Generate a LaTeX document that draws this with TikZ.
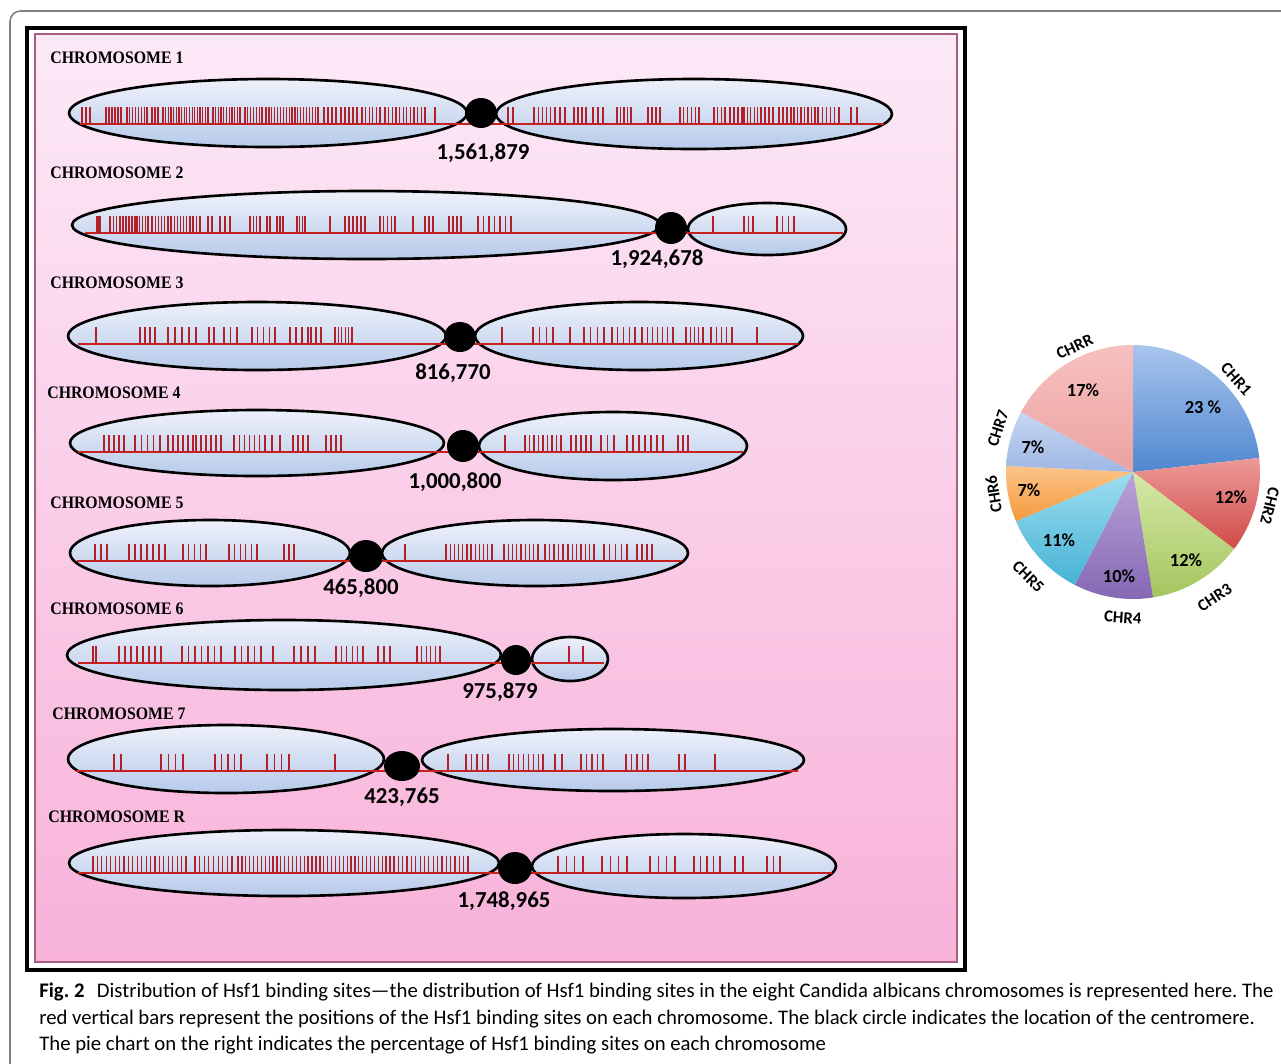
\documentclass[tikz,border=0pt]{standalone}
\usepackage{fontspec}
\usepackage{tikz}
\usetikzlibrary{positioning}
\newfontfamily\chromfont[FakeStretch=0.9]{Liberation Serif}
\newfontfamily\numfont{Carlito}
\definecolor{armtop}{HTML}{EEF1FA}
\definecolor{armbot}{HTML}{B7CAEA}
\definecolor{sitered}{HTML}{B3202A}
\definecolor{linered}{HTML}{C8201E}
\definecolor{paneltop}{HTML}{FCE9F7}
\definecolor{panelbot}{HTML}{F8B2D9}
\definecolor{paneledge}{HTML}{A8607E}
\definecolor{c1top}{HTML}{A9C5EE}\definecolor{c1bot}{HTML}{4F87CF}
\definecolor{c2top}{HTML}{EC9A98}\definecolor{c2bot}{HTML}{D04A47}
\definecolor{c3top}{HTML}{D6E8A8}\definecolor{c3bot}{HTML}{A3C65E}
\definecolor{c4top}{HTML}{B9A4D8}\definecolor{c4bot}{HTML}{8466B2}
\definecolor{c5top}{HTML}{9EDDF0}\definecolor{c5bot}{HTML}{45B3D4}
\definecolor{c6top}{HTML}{FCC489}\definecolor{c6bot}{HTML}{F39A3C}
\definecolor{c7top}{HTML}{C6D6F2}\definecolor{c7bot}{HTML}{9FB7E3}
\definecolor{crtop}{HTML}{F7C1C0}\definecolor{crbot}{HTML}{EAA2A0}

\tikzset{
  arm/.style={top color=armtop, bottom color=armbot, draw=black, line width=1.5pt},
  site/.style={draw=sitered, line width=0.7pt},
  chromline/.style={draw=linered, line width=1.1pt},
  chromlabel/.style={anchor=west, inner sep=0pt, font=\chromfont\bfseries\fontsize{10}{12}\selectfont},
  position/.style={inner sep=0pt, font=\numfont\bfseries\fontsize{13}{15}\selectfont},
  pct/.style={inner sep=0pt, font=\numfont\bfseries\fontsize{10.5}{12}\selectfont},
  slicelabel/.style={inner sep=0pt, font=\numfont\bfseries\fontsize{9.5}{11}\selectfont}
}

% one arm of a chromosome: centre x, centre y, x radius, y radius
\newcommand{\arm}[4]{\shade[arm] (#1,#2) ellipse [x radius=#3, y radius=#4];}
% binding sites: baseline y, list of first/last/count
\newcommand{\sites}[2]{%
  \foreach \p/\q/\m in {#2}{%
    \foreach \k in {1,...,\m}{%
      \pgfmathsetmacro{\xs}{\p+(\k-1)*(\q-\p)/max(\m-1,1)}
      \draw[site] (\xs,#1) -- ++(0,-17);
    }}}

\begin{document}
\begin{tikzpicture}[x=0.2mm, y=-0.2mm]
\useasboundingbox (0,0) rectangle (1281,1063);
\fill[white] (0,0) rectangle (1281,1063);

% frames
\draw[gray, line width=0.9pt, rounded corners=6pt] (10,1080) -- (10,11) -- (1300,11);
\draw[line width=2.4pt] (27,28) rectangle (965,970);
\shade[top color=paneltop, bottom color=panelbot, draw=paneledge, line width=0.6pt] (35,34) rectangle (957,962);

% Chromosome 1
\node[chromlabel] (lab1) at (50,58) {CHROMOSOME 1};
\arm{268}{113}{199}{34}
\arm{694}{114}{198}{35}
\draw[chromline] (80,124) -- (884,124);
\sites{124}{82/90/3, 106/121/6, 127/147/8, 152/158/3, 163/208/18, 213/240/11, 245/262/7, 266/318/19, 324/336/4, 341/357/5, 362/380/6, 385/425/12, 435/435/1}
\sites{124}{508/513/2, 534/555/6, 560/565/2, 574/586/4, 593/603/3, 617/631/5, 648/660/4, 680/699/6, 714/725/4, 730/742/4, 744/761/6, 765/773/3, 779/791/4, 794/815/7, 818/839/6, 851/857/2}
\fill (481,113) ellipse [x radius=16, y radius=15];
\node[position] (pos1) at (483,153) {1,561,879};

% Chromosome 2
\node[chromlabel] (lab2) at (50,173) {CHROMOSOME 2};
\arm{366}{225}{294}{34}
\arm{767}{229}{79}{26}
\draw[chromline] (85,233) -- (843,233);
\sites{233}{97/100/3, 110/120/4, 123/135/5, 137/148/5, 152/168/6, 171/190/7, 193/200/3, 208/212/2, 220/230/3, 250/260/4, 267/270/2, 277/283/3, 297/305/4, 330/330/1, 345/365/6, 380/395/5, 413/413/1, 425/433/3, 449/461/4, 478/511/7}
\sites{233}{713/713/1, 744/753/3, 777/794/4}
\fill (671,228) ellipse [x radius=16, y radius=16];
\node[position] (pos2) at (657,259) {1,924,678};

% Chromosome 3
\node[chromlabel] (lab3) at (50,283) {CHROMOSOME 3};
\arm{257}{336}{189}{34}
\arm{639}{336}{164}{34}
\draw[chromline] (78,344) -- (798,344);
\sites{344}{96/96/1, 140/155/4, 168/196/5, 209/214/2, 224/237/3, 252/275/5, 290/308/4, 311/321/3, 335/352/6}
\sites{344}{502/502/1, 533/553/4, 570/570/1, 584/604/4, 612/635/5, 642/673/7, 686/703/5, 711/732/5, 757/757/1}
\fill (460,337) ellipse [x radius=16, y radius=15];
\node[position] (pos3) at (453,373) {816,770};

% Chromosome 4
\node[chromlabel] (lab4) at (47,393) {CHROMOSOME 4};
\arm{257}{443}{187}{33}
\arm{613}{446}{134}{34}
\draw[chromline] (78,452) -- (743,452);
\sites{452}{104/124/5, 135/160/5, 168/193/6, 196/221/6, 234/265/7, 272/280/2, 293/308/4, 326/341/4}
\sites{452}{505/505/1, 525/561/9, 571/591/5, 601/614/3, 627/663/7, 678/688/3}
\fill (463,446) ellipse [x radius=16, y radius=16];
\node[position] (pos4) at (455,482) {1,000,800};

% Chromosome 5
\node[chromlabel] (lab5) at (50,503) {CHROMOSOME 5};
\arm{210}{553}{140}{33}
\arm{535}{553}{153}{33}
\draw[chromline] (77,561) -- (682,561);
\sites{561}{95/107/3, 129/165/7, 183/206/5, 229/257/6, 284/294/3}
\sites{561}{405/405/1, 446/492/12, 504/538/9, 545/563/5, 568/594/7, 604/627/5, 637/652/4}
\fill (366,556) ellipse [x radius=17, y radius=16];
\node[position] (pos5) at (361,588) {465,800};

% Chromosome 6
\node[chromlabel] (lab6) at (50,609) {CHROMOSOME 6};
\arm{284}{655}{217}{35}
\arm{570}{659}{38}{22}
\draw[chromline] (78,663) -- (604,663);
\sites{663}{93/96/2, 119/161/8, 182/221/7, 235/261/5, 273/273/1, 294/315/4, 336/363/6, 378/390/3, 417/440/6}
\sites{663}{569/583/2}
\fill (516,660) ellipse [x radius=15, y radius=15];
\node[position] (pos6) at (500,692) {975,879};

% Chromosome 7
\node[chromlabel] (lab7) at (52,714) {CHROMOSOME 7};
\arm{226}{759}{158}{34}
\arm{613}{760}{191}{31}
\draw[chromline] (76,771) -- (798,771);
\sites{771}{114/121/2, 161/183/4, 215/241/5, 267/289/4, 335/335/1}
\sites{771}{448/448/1, 466/488/5, 509/543/8, 555/562/2, 581/603/5, 626/648/5, 679/685/2, 715/715/1}
\fill (402,766) ellipse [x radius=18, y radius=15];
\node[position] (pos7) at (402,797) {423,765};

% Chromosome R
\node[chromlabel] (labR) at (48,817) {CHROMOSOME R};
\arm{284}{863}{215}{33}
\arm{684}{866}{152}{32}
\draw[chromline] (78,873) -- (832,873);
\sites{873}{93/186/22, 195/232/9, 238/312/20, 316/390/20, 394/468/18}
\sites{873}{558/583/4, 602/627/4, 650/675/4, 694/720/5, 735/743/2, 767/780/3}
\fill (515,868) ellipse [x radius=17, y radius=16];
\node[position] (posR) at (504,901) {1,748,965};

% pie chart
\begin{scope}[shift={(1133,472)}, x=0.2mm, y=0.2mm]
\foreach \s/\e/\ct/\cb in {90/6.364/c1top/c1bot, 6.364/-37.273/c2top/c2bot, -37.273/-80.909/c3top/c3bot, -80.909/-117.273/c4top/c4bot, -117.273/-157.273/c5top/c5bot, -157.273/-182.727/c6top/c6bot, -182.727/-208.182/c7top/c7bot, -208.182/-270/crtop/crbot}
  \shade[top color=\ct, bottom color=\cb] (0,0) -- (\s:127) arc[start angle=\s, end angle=\e, radius=127] -- cycle;
\node[pct] (pct1) at (70,65) {23 \%};
\node[pct] (pct2) at (98,-25) {12\%};
\node[pct] (pct3) at (53,-88) {12\%};
\node[pct] (pct4) at (-14,-104) {10\%};
\node[pct] (pct5) at (-74,-68) {11\%};
\node[pct] (pct6) at (-104,-18) {7\%};
\node[pct] (pct7) at (-100,25) {7\%};
\node[pct] (pctR) at (-50,82) {17\%};
\node[slicelabel, rotate=-48] (name1) at (42:139) {CHR1};
\node[slicelabel, rotate=-104] (name2) at (-14:141) {CHR2};
\node[slicelabel, rotate=33] (name3) at (-57:150) {CHR3};
\node[slicelabel, rotate=-4] (name4) at (-94:146) {CHR4};
\node[slicelabel, rotate=-45] (name5) at (-135:148) {CHR5};
\node[slicelabel, rotate=99] (name6) at (-171:141) {CHR6};
\node[slicelabel, rotate=72] (name7) at (162:142) {CHR7};
\node[slicelabel, rotate=25] (nameR) at (115:138) {CHRR};
\end{scope}

% caption
\node[anchor=north west, inner sep=0pt, align=left, font=\numfont\fontsize{11.8}{15}\selectfont\frenchspacing] (caption) at (39,983)
  {\textbf{Fig. 2}\hspace{0.6em}Distribution of Hsf1 binding sites—the distribution of Hsf1 binding sites in the eight Candida albicans chromosomes is represented here. The\\
   red vertical bars represent the positions of the Hsf1 binding sites on each chromosome. The black circle indicates the location of the centromere.\\
   The pie chart on the right indicates the percentage of Hsf1 binding sites on each chromosome};
\end{tikzpicture}
\end{document}
